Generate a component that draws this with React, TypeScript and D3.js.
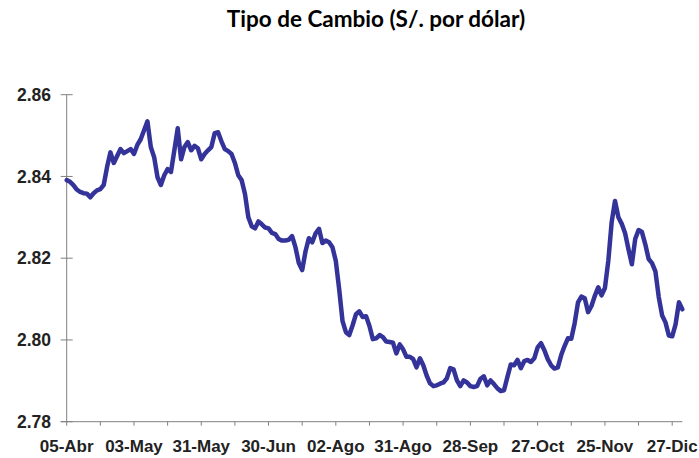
import React from "react";
import * as d3 from "d3";

// tipo de cambio diario, S/. por dólar
const rates = [
	2.8391, 2.8387, 2.8379, 2.8368, 2.8362, 2.8359, 2.8358, 2.8349, 2.8359, 2.8366,
	2.8369, 2.8379, 2.8423, 2.8459, 2.8433, 2.845, 2.8467, 2.8457, 2.8462, 2.8467,
	2.8455, 2.8477, 2.8491, 2.8513, 2.8535, 2.8472, 2.8447, 2.8398, 2.8379, 2.8403,
	2.8418, 2.8411, 2.8464, 2.8518, 2.8442, 2.8472, 2.8484, 2.8464, 2.8475, 2.8469,
	2.8442, 2.8455, 2.8464, 2.8472, 2.8506, 2.8508, 2.8486, 2.8467, 2.8462, 2.8455,
	2.8433, 2.8403, 2.8391, 2.8357, 2.83, 2.8278, 2.8273, 2.829, 2.8283, 2.8275,
	2.8273, 2.8262, 2.8259, 2.8247, 2.8243, 2.8243, 2.8245, 2.8254, 2.8227, 2.8188,
	2.8171, 2.8217, 2.8249, 2.8239, 2.8261, 2.8272, 2.8237, 2.8243, 2.8239, 2.8227,
	2.8193, 2.8124, 2.8046, 2.8019, 2.8012, 2.8036, 2.8063, 2.807, 2.8056, 2.8058,
	2.8034, 2.8002, 2.8004, 2.8012, 2.8007, 2.7996, 2.7995, 2.7993, 2.7967, 2.7989,
	2.7977, 2.7959, 2.7959, 2.7953, 2.7933, 2.7955, 2.7938, 2.7913, 2.7894, 2.7887,
	2.7889, 2.7893, 2.7896, 2.7906, 2.7931, 2.7928, 2.7901, 2.7887, 2.7901, 2.7896,
	2.7887, 2.7885, 2.7887, 2.7905, 2.7911, 2.7889, 2.7901, 2.7892, 2.7882, 2.7875,
	2.7877, 2.7909, 2.794, 2.7938, 2.7951, 2.7931, 2.7948, 2.7951, 2.7946, 2.7955,
	2.7982, 2.7992, 2.7975, 2.7953, 2.7938, 2.793, 2.7933, 2.7963, 2.7985, 2.8004,
	2.8003, 2.8041, 2.8092, 2.8106, 2.8102, 2.8068, 2.8083, 2.8108, 2.8129, 2.8109,
	2.8127, 2.8193, 2.8288, 2.834, 2.83, 2.8284, 2.8261, 2.8222, 2.8185, 2.8247,
	2.8269, 2.8264, 2.8234, 2.8198, 2.8188, 2.8168, 2.8105, 2.806, 2.8043, 2.8011,
	2.8009, 2.8038, 2.8092, 2.8075,
];

const dateLabels = [
	"05-Abr", "03-May", "31-May", "30-Jun", "02-Ago",
	"31-Ago", "28-Sep", "27-Oct", "25-Nov", "27-Dic",
];

const yTicks = [2.78, 2.8, 2.82, 2.84, 2.86];

const W = 699,
	H = 458;

const App = () => {
	const n = rates.length;
	const x = d3.scaleLinear().domain([0, 183]).range([66.7, 682.3]);
	const y = d3.scaleLinear().domain([2.78, 2.86]).range([421.7, 94.7]);

	const line = d3
		.line<number>()
		.x((d, i) => x(i))
		.y((d) => y(d));

	const minorTicks = d3.range(0, n, 10);
	const axisColor = "#808080";

	return (
		<svg
			width={W}
			height={H}
			style={{ position: "absolute", left: 0, top: 0, background: "#fff" }}
		>
			<text
				x={376}
				y={27}
				textAnchor="middle"
				fontFamily="Lato, 'Open Sans', sans-serif"
				fontWeight="bold"
				fontSize={22.5}
				fill="#000"
			>
				Tipo de Cambio (S/. por dólar)
			</text>

			{/* eje Y */}
			<line x1={x(0)} x2={x(0)} y1={y(2.86)} y2={y(2.78)} stroke={axisColor} strokeWidth={1} />
			{yTicks.map((t) => (
				<g key={t}>
					<line x1={x(0) - 6} x2={x(0) + 6} y1={y(t)} y2={y(t)} stroke={axisColor} />
					<text
						x={51}
						y={y(t)}
						dy="0.35em"
						textAnchor="end"
						fontFamily="'Liberation Sans', Arial, sans-serif"
						fontWeight="bold"
						fontSize={17.5}
						fill="#222"
					>
						{d3.format(".2f")(t)}
					</text>
				</g>
			))}

			{/* eje X */}
			<line x1={x(0) - 6} x2={x(n - 1)} y1={y(2.78)} y2={y(2.78)} stroke={axisColor} />
			{minorTicks.map((i) => (
				<line key={i} x1={x(i)} x2={x(i)} y1={y(2.78)} y2={y(2.78) + 4} stroke={axisColor} />
			))}
			{dateLabels.map((lab, k) => (
				<text
					key={lab}
					x={x(k * 20)}
					y={452}
					textAnchor="middle"
					fontFamily="'Liberation Sans', Arial, sans-serif"
					fontWeight="bold"
					fontSize={17}
					fill="#222"
				>
					{lab}
				</text>
			))}

			<path
				d={line(rates) || ""}
				fill="none"
				stroke="#333399"
				strokeWidth={4.5}
				strokeLinejoin="round"
				strokeLinecap="round"
			/>
		</svg>
	);
};

export default App;
